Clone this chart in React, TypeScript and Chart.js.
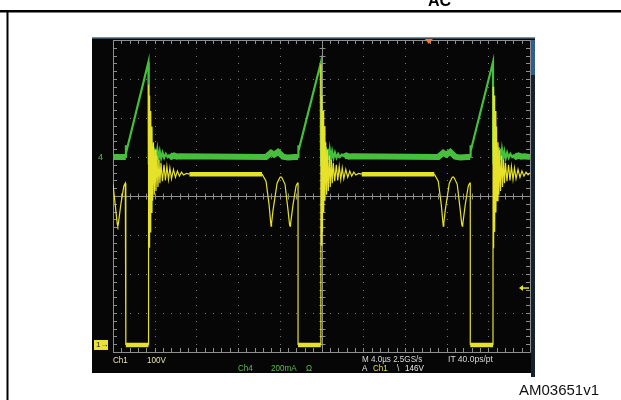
import React, { useEffect, useRef } from "react";
import { Chart, registerables } from "chart.js";

Chart.register(...registerables);

// ---- Data read from the oscilloscope capture ----
// Time axis: 4 µs/div, 10 divisions
const timeMin = 0;
const timeMax = 40;
// Ch1 (drain voltage, yellow): 100 V/div, ground 3.82 div below centre
const ch1Min = -18;
const ch1Max = 782;
// Ch4 (current, green): 200 mA/div, ground 1 div above centre
const ch4Min = -1000;
const ch4Max = 600;
const triggerLevel = 146; // V
const triggerTime = 30.3; // µs (orange marker on top edge)

const ch1Time = [
  0.0, 0.27, 0.41, 0.46, 0.51, 0.75, 1.04, 1.18, 1.23, 1.23, 3.4, 3.41, 3.46, 3.51, 3.56, 3.62, 3.68, 3.74, 3.8, 3.88,
  3.96, 4.03, 4.12, 4.22, 4.31, 4.41, 4.5, 4.6, 4.74, 4.89, 5.03, 5.17, 5.32, 5.46, 5.61, 5.8, 5.99, 6.18, 6.37, 6.57,
  6.76, 7.04, 7.33,
  14.3, 14.68, 14.97, 15.11, 15.16, 15.21, 15.35, 15.74, 16.02, 16.12, 16.22, 16.5, 16.79, 16.93, 16.98, 17.03, 17.27,
  17.56, 17.7, 17.75, 17.75, 19.93, 19.94, 19.99, 20.04, 20.09, 20.15, 20.21, 20.27, 20.33, 20.41, 20.49, 20.56, 20.65,
  20.75, 20.84, 20.94, 21.03, 21.13, 21.27, 21.42, 21.56, 21.7, 21.85, 21.99, 22.14, 22.33, 22.52, 22.71, 22.9, 23.1,
  23.29, 23.57, 23.86,
  30.82, 31.2, 31.49, 31.63, 31.68, 31.73, 31.87, 32.26, 32.54, 32.64, 32.74, 33.02, 33.31, 33.45, 33.5, 33.55, 33.79,
  34.08, 34.22, 34.27, 34.27, 36.45, 36.46, 36.51, 36.56, 36.61, 36.67, 36.73, 36.79, 36.85, 36.93, 37.01, 37.08, 37.17,
  37.27, 37.36, 37.46, 37.55, 37.65, 37.79, 37.94, 38.08, 38.22, 38.37, 38.51, 38.66, 38.85, 39.04, 39.23, 39.42, 39.62,
  39.81, 40.0,
];
const ch1Volts = [
  412, 345, 310, 305, 310, 360, 408, 415, 415, 0, 0, 667, 251, 640, 290, 600, 340, 560, 370, 520,
  385, 500, 395, 485, 405, 475, 415, 467, 420, 462, 422, 458, 424, 454, 426, 450, 430, 446, 433, 443,
  436, 440, 438,
  438, 420, 360, 318, 305, 312, 345, 415, 430, 431, 428, 412, 345, 310, 305, 310, 360,
  408, 415, 415, 0, 0, 720, 256, 640, 290, 600, 340, 560, 370, 520, 385, 500, 395,
  485, 405, 475, 415, 467, 420, 462, 422, 458, 424, 454, 426, 450, 430, 446, 433, 443,
  436, 440, 438,
  438, 420, 360, 318, 305, 312, 345, 415, 430, 431, 428, 412, 345, 310, 305, 310, 360,
  408, 415, 415, 0, 0, 662, 248, 640, 290, 600, 340, 560, 370, 520, 385, 500, 395,
  485, 405, 475, 415, 467, 420, 462, 422, 458, 424, 454, 426, 450, 430, 446, 433, 443,
  436, 441,
];

const ch4Time = [
  0.0, 1.23, 1.24, 1.29, 3.4, 3.41, 3.45, 3.5, 3.55, 3.61, 3.67, 3.74, 3.81, 3.89, 3.97, 4.06, 4.16, 4.26, 4.37, 4.49,
  4.62, 4.76, 4.91, 5.07, 5.24, 5.42, 5.62, 5.85, 6.1, 6.4,
  14.68, 15.16, 15.45, 15.83, 16.31, 16.79, 17.46, 17.75, 17.76, 17.81, 19.93, 19.94, 19.98, 20.03, 20.08, 20.14, 20.2,
  20.27, 20.34, 20.42, 20.5, 20.59, 20.69, 20.79, 20.9, 21.02, 21.15, 21.29, 21.44, 21.6, 21.77, 21.95, 22.15, 22.38,
  22.63, 22.93,
  31.2, 31.68, 31.97, 32.35, 32.83, 33.31, 33.98, 34.27, 34.28, 34.33, 36.45, 36.46, 36.5, 36.55, 36.6, 36.66, 36.72,
  36.79, 36.86, 36.94, 37.02, 37.11, 37.21, 37.31, 37.42, 37.54, 37.67, 37.81, 37.96, 38.12, 38.29, 38.47, 38.67, 38.9,
  39.15, 39.45, 40.0,
];
const ch4Milliamps = [
  0, 0, 60, 30, 487, 70, -40, 75, -35, 65, -30, 58, -25, 50, -20, 42, -15, 35, -10, 28,
  -6, 22, -4, 16, 0, 12, 2, 8, 2, 4,
  0, 22, 12, 26, 2, -3, 0, 0, 60, 30, 482, 70, -40, 75, -35, 65, -30,
  58, -25, 50, -20, 42, -15, 35, -10, 28, -6, 22, -4, 16, 0, 12, 2, 8,
  2, 4,
  0, 22, 12, 26, 2, -3, 0, 0, 60, 30, 487, 70, -40, 75, -35, 65, -30,
  58, -25, 50, -20, 42, -15, 35, -10, 28, -6, 22, -4, 16, 0, 12, 2, 8,
  2, 4, 0,
];

const YELLOW = "#e6e22a";
const GREEN = "#46c03c";

type Lbl = { text: string; x: number; y: number; size: number; color: string; bold?: boolean; sx?: number };
const labels: Lbl[] = [
  { text: "AC", x: 428, y: 7, size: 16, color: "#000", bold: true },
  { text: "AM03651v1", x: 519, y: 395, size: 15, color: "#111" },
  { text: "Ch1", x: 113, y: 363, size: 9.5, color: "#e8e4a8", sx: 0.85 },
  { text: "100V", x: 147, y: 363, size: 9.5, color: "#e8e4a8", sx: 0.85 },
  { text: "Ch4", x: 238, y: 371, size: 9.5, color: "#5cbc4c", sx: 0.85 },
  { text: "200mA", x: 271, y: 371, size: 9.5, color: "#5cbc4c", sx: 0.85 },
  { text: "Ω", x: 306, y: 371, size: 9.5, color: "#5cbc4c", sx: 0.85 },
  { text: "M 4.0µs 2.5GS/s", x: 362, y: 362, size: 9.5, color: "#dadada", sx: 0.85 },
  { text: "IT 40.0ps/pt", x: 448, y: 362, size: 9.5, color: "#dadada", sx: 0.9 },
  { text: "A", x: 362, y: 371, size: 9.5, color: "#e6e6e6", sx: 0.85 },
  { text: "Ch1", x: 373, y: 371, size: 9.5, color: "#e2dc3a", sx: 0.85 },
  { text: "\\", x: 397, y: 371, size: 9.5, color: "#e6e6e6", sx: 0.85 },
  { text: "146V", x: 405, y: 371, size: 9.5, color: "#e6e6e6", sx: 0.85 },
  { text: "4", x: 98, y: 161, size: 9, color: GREEN },
];

const bandWidth = (thick: number, maxDt: number, maxDv: number) => (ctx: any) => {
  const dt = Math.abs(ctx.p1.parsed.x - ctx.p0.parsed.x);
  const dv = Math.abs(ctx.p1.parsed.y - ctx.p0.parsed.y);
  return dt > maxDt && dv < maxDv ? thick : undefined;
};

const scopePlugin = {
  id: "scope",
  beforeDraw(chart: any) {
    const { ctx, chartArea: a } = chart;
    ctx.save();
    ctx.fillStyle = "#ffffff";
    ctx.fillRect(0, 0, chart.width, chart.height);
    // document frame lines
    ctx.fillStyle = "#000";
    ctx.fillRect(0, 10, chart.width, 2.5);
    ctx.fillRect(6.5, 10, 2, chart.height - 10);
    // scope screen
    ctx.fillStyle = "#060606";
    ctx.fillRect(a.left - 21, a.top - 2, a.right - a.left + 26, a.bottom - a.top + 23);
    ctx.fillStyle = "#7890a0";
    ctx.fillRect(a.left - 21, a.top - 3, a.right - a.left + 26, 1.5);
    ctx.fillStyle = "#2f5f8f";
    ctx.fillRect(a.right + 1, a.top, 4, 35);
    ctx.fillStyle = "#15222e";
    ctx.fillRect(a.right + 1, a.top + 35, 4, a.bottom - a.top - 10);
    ctx.restore();
  },
  beforeDatasetsDraw(chart: any) {
    const { ctx, chartArea: a } = chart;
    const w = a.right - a.left;
    const h = a.bottom - a.top;
    const xs = (k: number) => Math.round(a.left + (w * k) / 10) + 0.5;
    const ys = (k: number) => Math.round(a.top + (h * k) / 8) + 0.5;
    ctx.save();
    ctx.fillStyle = "#7a7a7a";
    for (let k = 1; k < 10; k++) {
      if (k === 5) continue;
      for (let j = 0; j <= 40; j++) ctx.fillRect(xs(k) - 0.5, Math.round(a.top + (h * j) / 40), 1, 1);
    }
    for (let k = 1; k < 8; k++) {
      if (k === 4) continue;
      for (let j = 0; j <= 50; j++) ctx.fillRect(Math.round(a.left + (w * j) / 50), ys(k) - 0.5, 1, 1);
    }
    ctx.strokeStyle = "#8e8e8e";
    ctx.lineWidth = 1;
    ctx.beginPath();
    ctx.moveTo(a.left, ys(4));
    ctx.lineTo(a.right, ys(4));
    ctx.moveTo(xs(5), a.top);
    ctx.lineTo(xs(5), a.bottom);
    ctx.rect(xs(0), ys(0), xs(10) - xs(0), ys(8) - ys(0));
    for (let j = 0; j <= 50; j++) {
      const x = Math.round(a.left + (w * j) / 50) + 0.5;
      ctx.moveTo(x, ys(4) - 3);
      ctx.lineTo(x, ys(4) + 3);
      ctx.moveTo(x, a.top);
      ctx.lineTo(x, a.top + 4);
      ctx.moveTo(x, a.bottom - 4);
      ctx.lineTo(x, a.bottom);
    }
    for (let j = 0; j <= 40; j++) {
      const y = Math.round(a.top + (h * j) / 40) + 0.5;
      ctx.moveTo(xs(5) - 3, y);
      ctx.lineTo(xs(5) + 3, y);
      ctx.moveTo(a.left, y);
      ctx.lineTo(a.left + 4, y);
      ctx.moveTo(a.right - 4, y);
      ctx.lineTo(a.right, y);
    }
    ctx.stroke();
    ctx.restore();
  },
  afterDatasetsDraw(chart: any) {
    const { ctx, chartArea: a, scales } = chart;
    ctx.save();
    // trigger position marker
    const tx = scales.x.getPixelForValue(triggerTime);
    ctx.fillStyle = "#f07830";
    ctx.beginPath();
    ctx.moveTo(tx - 4, a.top - 1);
    ctx.lineTo(tx + 4, a.top - 1);
    ctx.lineTo(tx, a.top + 4);
    ctx.closePath();
    ctx.fill();
    // trigger level arrow
    const ty = scales.y.getPixelForValue(triggerLevel);
    ctx.strokeStyle = YELLOW;
    ctx.fillStyle = YELLOW;
    ctx.lineWidth = 1.5;
    ctx.beginPath();
    ctx.moveTo(a.right - 8, ty);
    ctx.lineTo(a.right - 1, ty);
    ctx.stroke();
    ctx.beginPath();
    ctx.moveTo(a.right - 11, ty);
    ctx.lineTo(a.right - 7, ty - 3);
    ctx.lineTo(a.right - 7, ty + 3);
    ctx.closePath();
    ctx.fill();
    // ch1 ground marker box
    const gy = scales.y.getPixelForValue(0);
    ctx.fillStyle = "#ece234";
    ctx.fillRect(a.left - 19, gy - 5, 14, 10);
    ctx.restore();
  },
};

export default function App() {
  const ref = useRef<HTMLCanvasElement>(null);
  useEffect(() => {
    const yellowPts = ch1Time.map((t, i) => ({ x: t, y: ch1Volts[i] }));
    const greenPts = ch4Time.map((t, i) => ({ x: t, y: ch4Milliamps[i] }));
    const chart = new Chart(ref.current as HTMLCanvasElement, {
      type: "line",
      data: {
        datasets: [
          {
            label: "Ch1",
            data: yellowPts,
            yAxisID: "y",
            borderColor: YELLOW,
            borderWidth: 1.2,
            pointRadius: 0,
            tension: 0,
            order: 0,
            segment: { borderWidth: bandWidth(4.5, 0.8, 20) },
          },
          {
            label: "Ch4",
            data: greenPts,
            yAxisID: "y4",
            borderColor: GREEN,
            borderWidth: 2.2,
            pointRadius: 0,
            tension: 0,
            order: 1,
            segment: { borderWidth: bandWidth(6, 0.2, 30) },
          },
        ],
      },
      options: {
        responsive: false,
        animation: false,
        devicePixelRatio: 1,
        layout: { padding: { left: 113, top: 40, right: 91, bottom: 48 } },
        plugins: { legend: { display: false }, tooltip: { enabled: false } },
        events: [],
        scales: {
          x: { type: "linear", min: timeMin, max: timeMax, display: false },
          y: { type: "linear", min: ch1Min, max: ch1Max, display: false },
          y4: { type: "linear", min: ch4Min, max: ch4Max, display: false },
        },
      },
      plugins: [scopePlugin],
    } as any);
    return () => chart.destroy();
  }, []);

  return (
    <div style={{ position: "absolute", left: 0, top: 0, width: 621, height: 400, overflow: "hidden", background: "#fff" }}>
      <canvas ref={ref} width={621} height={400} style={{ position: "absolute", left: 0, top: 0, width: 621, height: 400 }} />
      {labels.map((l, i) => (
        <span
          key={i}
          style={{
            position: "absolute",
            left: l.x,
            top: l.y - l.size * 0.85,
            fontFamily: '"Liberation Sans", Arial, sans-serif',
            fontSize: l.size,
            lineHeight: `${l.size}px`,
            fontWeight: l.bold ? 700 : 400,
            color: l.color,
            whiteSpace: "pre",
            transform: l.sx ? `scaleX(${l.sx})` : undefined,
            transformOrigin: "left top",
          }}
        >
          {l.text}
        </span>
      ))}
      <span
        style={{
          position: "absolute",
          left: 96,
          top: 340,
          fontFamily: '"Liberation Sans", Arial, sans-serif',
          fontSize: 8,
          lineHeight: "9px",
          color: "#222",
          whiteSpace: "pre",
        }}
      >
        1→
      </span>
    </div>
  );
}
